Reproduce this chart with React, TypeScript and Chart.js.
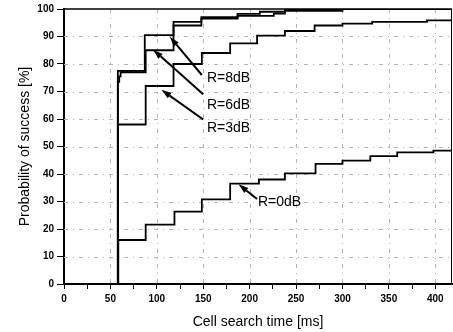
import React, { useEffect, useRef } from "react";
import { Chart, registerables } from "chart.js";

Chart.register(...registerables);

const X_MAX = 418;
const xTickValues = [0, 25, 50, 75, 100, 125, 150, 175, 200, 225, 250, 275, 300, 325, 350, 375, 400];
const gridX = [50, 100, 150, 200, 250, 300, 350, 400];
const gridY = [10, 20, 30, 40, 50, 60, 70, 80, 90];

// Step curves: time (ms) at which the probability jumps, and the value after the jump (%)
const r8Times = [0, 58, 87, 118, 148, 187, 211, 238, 418];
const r8Values = [0, 77.5, 90.5, 95.3, 97, 98.2, 99, 100, 100];

const r6Times = [0, 58, 59.5, 61, 88, 118, 148, 187, 226, 238, 300, 418];
const r6Values = [0, 73.5, 75.5, 77, 85, 94, 96.5, 97.5, 98.3, 99.3, 100, 100];

const r3Times = [0, 58, 88, 118, 148.5, 179, 208, 238, 270, 300, 332, 391, 418];
const r3Values = [0, 58, 72, 80, 84, 87.5, 90.3, 92, 94, 94.7, 95.3, 95.9, 96];

const r0Times = [0, 58.5, 88, 119, 148.5, 179, 210, 238, 271, 300, 330, 359, 398, 418];
const r0Values = [0, 16, 21.6, 26.3, 30.8, 36.5, 38, 40.2, 43.7, 44.9, 46.5, 47.9, 48.5, 48.5];

// Annotations (data coordinates)
const noteLabels = ["R=8dB", "R=6dB", "R=3dB", "R=0dB"];
const noteTextX = [154, 154, 154, 209];
const noteTextY = [74.7, 65.2, 56.8, 29.7];
const noteTailX = [148.5, 150, 150, 208];
const noteTailY = [76, 69, 59.8, 30.9];
const noteTipX = [114, 96, 105, 188];
const noteTipY = [89.9, 85.2, 70.6, 36.3];

const toPoints = (t: number[], v: number[]) => t.map((x, i) => ({ x, y: v[i] }));

const FONT = '"Liberation Sans", Arial, Helvetica, sans-serif';

const overlay = {
  id: "overlay",
  beforeDatasetsDraw(chart: any) {
    const { ctx, chartArea: a, scales } = chart;
    const x = scales.x;
    const y = scales.y;
    ctx.save();
    ctx.strokeStyle = "#b4b4b4";
    ctx.lineWidth = 1;
    ctx.setLineDash([4, 5, 1, 5]);
    gridX.forEach((v) => {
      const px = Math.round(x.getPixelForValue(v)) + 0.5;
      ctx.beginPath();
      ctx.moveTo(px, a.top);
      ctx.lineTo(px, a.bottom);
      ctx.stroke();
    });
    gridY.forEach((v) => {
      const py = Math.round(y.getPixelForValue(v)) + 0.5;
      ctx.beginPath();
      ctx.moveTo(a.left, py);
      ctx.lineTo(a.right, py);
      ctx.stroke();
    });
    ctx.setLineDash([]);
    ctx.strokeStyle = "#000";
    ctx.lineWidth = 1;
    ctx.beginPath();
    ctx.moveTo(a.right - 0.5, a.top);
    ctx.lineTo(a.right - 0.5, a.bottom);
    ctx.stroke();
    ctx.lineWidth = 1.5;
    ctx.beginPath();
    ctx.moveTo(a.left, a.top);
    ctx.lineTo(a.right, a.top);
    ctx.stroke();
    ctx.restore();
  },
  afterDatasetsDraw(chart: any) {
    const { ctx, scales } = chart;
    const x = scales.x;
    const y = scales.y;
    ctx.save();
    ctx.strokeStyle = "#000";
    ctx.fillStyle = "#000";
    ctx.lineWidth = 2;
    noteLabels.forEach((label, i) => {
      const tx = x.getPixelForValue(noteTailX[i]);
      const ty = y.getPixelForValue(noteTailY[i]);
      const hx = x.getPixelForValue(noteTipX[i]);
      const hy = y.getPixelForValue(noteTipY[i]);
      const ang = Math.atan2(hy - ty, hx - tx);
      const len = 10;
      const hw = 3.2;
      const bx = hx - len * Math.cos(ang);
      const by = hy - len * Math.sin(ang);
      ctx.beginPath();
      ctx.moveTo(tx, ty);
      ctx.lineTo(bx, by);
      ctx.stroke();
      ctx.beginPath();
      ctx.moveTo(hx, hy);
      ctx.lineTo(bx + hw * Math.sin(ang), by - hw * Math.cos(ang));
      ctx.lineTo(bx - hw * Math.sin(ang), by + hw * Math.cos(ang));
      ctx.closePath();
      ctx.fill();
      ctx.font = `14px ${FONT}`;
      ctx.textAlign = "left";
      ctx.textBaseline = "middle";
      ctx.fillText(label, x.getPixelForValue(noteTextX[i]), y.getPixelForValue(noteTextY[i]));
    });
    ctx.restore();
  },
};

export default function App() {
  const ref = useRef<HTMLCanvasElement | null>(null);
  useEffect(() => {
    if (!ref.current) return;
    const series = [
      toPoints(r8Times, r8Values),
      toPoints(r6Times, r6Values),
      toPoints(r3Times, r3Values),
      toPoints(r0Times, r0Values),
    ];
    const chart = new Chart(ref.current, {
      type: "line",
      data: {
        datasets: series.map((d, i) => ({
          label: noteLabels[i],
          data: d,
          borderColor: "#000",
          borderWidth: 1.8,
          pointRadius: 0,
          stepped: "before" as const,
          fill: false,
          tension: 0,
        })),
      },
      options: {
        responsive: false,
        animation: false,
        devicePixelRatio: 1,
        parsing: false as any,
        layout: { padding: { top: 7, right: 1, left: 0, bottom: 0 } },
        plugins: { legend: { display: false }, tooltip: { enabled: false } },
        scales: {
          x: {
            type: "linear",
            min: 0,
            max: X_MAX,
            afterBuildTicks: (s: any) => {
              s.ticks = xTickValues.map((v) => ({ value: v }));
            },
            afterFit: (s: any) => {
              s.height = 48;
            },
            ticks: {
              autoSkip: false,
              maxRotation: 0,
              padding: 4,
              color: "#000",
              font: { family: FONT, size: 10, weight: "bold" },
              callback: (v: any) => (Number(v) % 50 === 0 ? String(v) : ""),
            },
            grid: { drawOnChartArea: false, drawTicks: true, tickLength: 5, tickColor: "#000", tickWidth: 1 },
            border: { display: true, color: "#000", width: 2 },
            title: {
              display: true,
              text: "Cell search time [ms]",
              color: "#000",
              font: { family: FONT, size: 14, lineHeight: 1.2 },
              padding: { top: 0, bottom: 1.6 },
            },
          },
          y: {
            type: "linear",
            min: 0,
            max: 100,
            afterFit: (s: any) => {
              s.width = 64;
            },
            ticks: {
              stepSize: 10,
              padding: 3,
              color: "#000",
              font: { family: FONT, size: 10, weight: "bold" },
            },
            grid: { drawOnChartArea: false, drawTicks: true, tickLength: 7, tickColor: "#000", tickWidth: 1 },
            border: { display: true, color: "#000", width: 2 },
            title: {
              display: true,
              text: "Probability of success [%]",
              color: "#000",
              font: { family: FONT, size: 14, lineHeight: 1.2 },
              padding: { top: 16.6, bottom: 0 },
            },
          },
        },
      },
      plugins: [overlay],
    });
    return () => chart.destroy();
  }, []);
  return (
    <div style={{ position: "absolute", left: 0, top: 0, width: 453, height: 332, background: "#fff" }}>
      <canvas ref={ref} width={453} height={332} style={{ display: "block" }} />
    </div>
  );
}
